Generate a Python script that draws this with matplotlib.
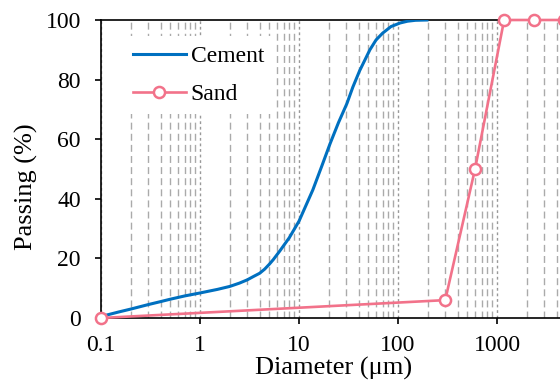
import numpy as np
import matplotlib.pyplot as plt
from matplotlib.ticker import FixedLocator, FixedFormatter, LogLocator, NullFormatter

plt.rcParams['font.family'] = ['Liberation Serif', 'DejaVu Serif']

# particle size distributions (diameter in um, passing in %)
cement_d = [0.1, 0.15, 0.2, 0.3, 0.4, 0.5, 0.7, 1, 1.5, 2, 2.5, 3, 3.5, 4, 4.5, 5,
            5.5, 6.4, 8, 10, 13.8, 17, 20.6, 25, 30.5, 35, 41, 52, 60, 70, 85,
            105, 125, 150, 196]
cement_p = [0.5, 2, 3, 4.5, 5.5, 6.3, 7.4, 8.4, 9.6, 10.6, 11.7, 12.8, 14, 15, 16.4, 18,
            19.6, 22.5, 27, 32.5, 43, 51, 58.5, 65.5, 72, 77.5, 83, 90, 93.3, 95.6, 97.8,
            99, 99.6, 99.9, 100]

sand_d = [0.1, 300, 600, 1180, 2360, 4750]
sand_p = [0, 6, 50, 100, 100, 100]

xticks = [0.1, 1, 10, 100, 1000]
xtick_labels = ['0.1', '1', '10', '100', '1000']

blue = '#0070C0'
pink = '#F2728A'

fig = plt.figure(figsize=(5.6, 3.8), dpi=100)
ax = fig.add_axes([101/560, 62/380, 495/560, 298/380])

ax.set_xscale('log')
ax.set_xlim(0.1, 10000)
ax.set_ylim(0, 100)

ax.xaxis.set_major_locator(FixedLocator(xticks))
ax.xaxis.set_major_formatter(FixedFormatter(xtick_labels))
ax.xaxis.set_minor_locator(LogLocator(base=10, subs=np.arange(2, 10)))
ax.xaxis.set_minor_formatter(NullFormatter())
ax.set_yticks(np.arange(0, 101, 20))

ax.grid(which='major', axis='x', color='#999999', linestyle=(0, (2, 2)), linewidth=1)
ax.grid(which='minor', axis='x', color='#aaaaaa', linestyle=(0, (5, 3)), linewidth=1)
ax.set_axisbelow(True)

ax.plot(cement_d, cement_p, color=blue, linewidth=2.2, label='Cement', zorder=3)
ax.plot(sand_d, sand_p, color=pink, linewidth=1.9, marker='o', markersize=8,
        markerfacecolor='white', markeredgecolor=pink, markeredgewidth=1.8,
        label='Sand', clip_on=False, zorder=4)

ax.tick_params(axis='both', which='major', direction='out', length=4.5, width=1.2,
               labelsize=17)
ax.tick_params(axis='y', pad=10)
ax.tick_params(axis='x', pad=8)
ax.tick_params(axis='x', which='minor', length=0)
ax.tick_params(top=False, right=False)
for s in ['left', 'bottom', 'top']:
    ax.spines[s].set_linewidth(1.2)

ax.set_xlabel('Diameter (\u03bcm)', fontsize=19)
ax.set_ylabel('Passing (%)', fontsize=19)
ax.xaxis.set_label_coords(0.469, -0.13)
ax.yaxis.set_label_coords(-0.127, 0.44)

leg = ax.legend(loc='upper left', bbox_to_anchor=(0.045, 0.945), fontsize=17,
                frameon=True, facecolor='white', edgecolor='none', framealpha=1,
                fancybox=False, handlelength=2.25, handletextpad=0.2,
                labelspacing=0.68, borderpad=0.4, borderaxespad=0)

fig.savefig('out.png', dpi=100)
